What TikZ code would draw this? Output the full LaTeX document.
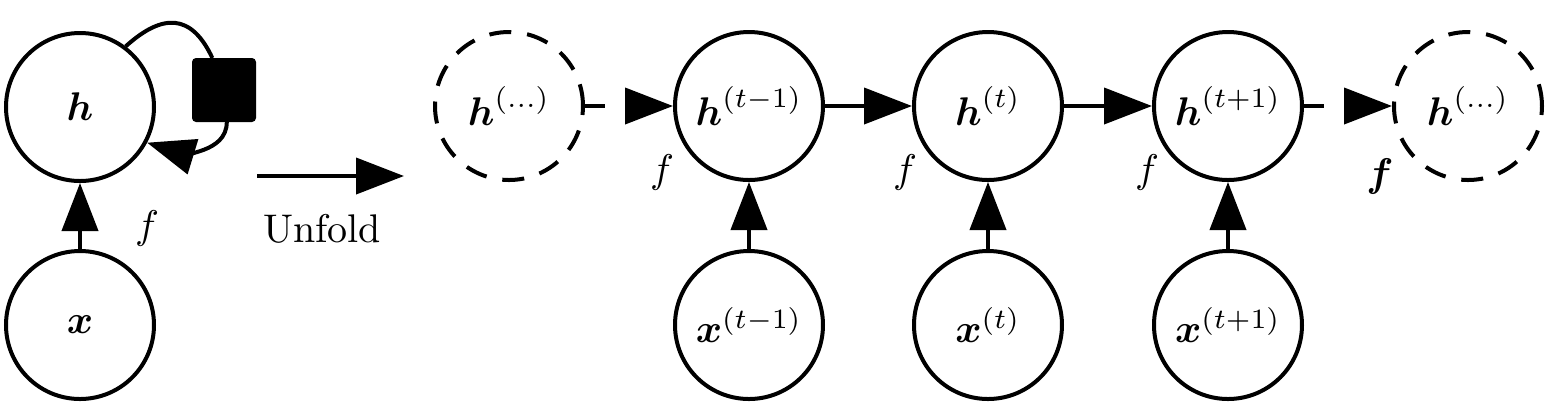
\documentclass[tikz,border=0pt]{standalone}
\usepackage{amsmath}
\usetikzlibrary{arrows.meta}
\begin{document}
\begin{tikzpicture}[x=0.25pt,y=-0.25pt,
  state/.style={circle,draw,line width=1pt,minimum size=37pt,inner sep=0pt},
  ghost/.style={state,dash pattern=on 5.5pt off 4pt},
  conn/.style={line width=1pt,-{Triangle[length=12pt,width=9pt]}},
  dconn/.style={conn,dash pattern=on 5pt off 30pt},
  plainlink/.style={line width=1pt},
  sqbox/.style={draw,fill=black,minimum size=15pt,inner sep=0pt,rounded corners=0.6pt,line width=1pt},
  flab/.style={inner sep=0pt}]
\useasboundingbox (0,0) rectangle (1556,410);
% folded graph
\node[state] (h) at (80,107) {$\boldsymbol{h}$};
\node[state] (x) at (80,325) {$\boldsymbol{x}$};
\node[sqbox] (sq) at (224,90) {};
\draw[conn] (x) -- (h);
\draw[plainlink] (h.53) to[out=42,in=115,looseness=1.45] (sq.110);
\draw[conn] (sq.-85) to[out=-90,in=-17] (h.-28);
\node[flab] (f0) at (147,228) {$f$};
% unfold arrow
\coordinate (u1) at (257,176);
\coordinate (u2) at (404,176);
\draw[conn] (u1) -- (u2);
\node (unf) at (322,229) {Unfold};
% unfolded graph
\node[ghost] (hl) at (509,106) {$\boldsymbol{h}^{(\ldots)}$};
\node[state] (h1) at (749,106) {$\boldsymbol{h}^{(t-1)}$};
\node[state] (h2) at (988,106) {$\boldsymbol{h}^{(t)}$};
\node[state] (h3) at (1228,106) {$\boldsymbol{h}^{(t+1)}$};
\node[ghost] (hr) at (1468,106) {$\boldsymbol{h}^{(\ldots)}$};
\node[state] (x1) at (749,325) {$\boldsymbol{x}^{(t-1)}$};
\node[state] (x2) at (988,325) {$\boldsymbol{x}^{(t)}$};
\node[state] (x3) at (1228,325) {$\boldsymbol{x}^{(t+1)}$};
\draw[dconn] (hl) -- (h1);
\draw[conn] (h1) -- (h2);
\draw[conn] (h2) -- (h3);
\draw[dconn] (h3) -- (hr);
\draw[conn] (x1) -- (h1);
\draw[conn] (x2) -- (h2);
\draw[conn] (x3) -- (h3);
\node[flab] (f1) at (662,172) {$f$};
\node[flab] (f2) at (905,172) {$f$};
\node[flab] (f3) at (1147,172) {$f$};
\node[flab] (f4) at (1380,176) {$\boldsymbol{f}$};
\end{tikzpicture}
\end{document}
